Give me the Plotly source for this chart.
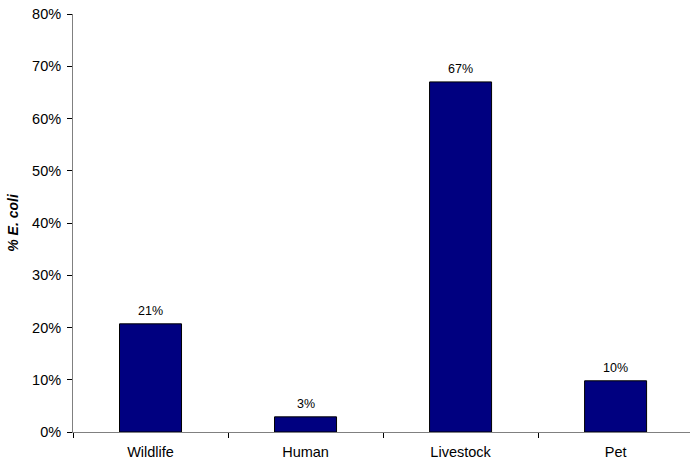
import plotly.graph_objects as go

categories = ["Wildlife", "Human", "Livestock", "Pet"]
values = [0.207, 0.029, 0.670, 0.098]
labels = ["21%", "3%", "67%", "10%"]
y_ticks = [0, 0.1, 0.2, 0.3, 0.4, 0.5, 0.6, 0.7, 0.8]

fig = go.Figure()
fig.add_trace(go.Bar(
    x=categories, y=values,
    marker=dict(color="#000080", line=dict(color="#000000", width=1)),
    width=0.4, hoverinfo="skip",
))

for c, v, t in zip(categories, values, labels):
    fig.add_annotation(
        x=c, y=v, text=t, showarrow=False,
        yanchor="bottom", yshift=4,
        font=dict(family="Arial, Liberation Sans", size=12.5, color="#000000"),
    )

fig.update_layout(
    width=690, height=464,
    margin=dict(l=73, r=0, t=14, b=32),
    paper_bgcolor="white", plot_bgcolor="white",
    showlegend=False,
    font=dict(family="Arial, Liberation Sans", size=14, color="#000000"),
    xaxis=dict(
        type="category", range=[-0.5, 3.48],
        showline=True, linecolor="#808080", linewidth=1,
        ticks="outside", tickson="boundaries", ticklen=5, tickcolor="#000000",
        showgrid=False, tickfont=dict(size=14.5), ticklabelstandoff=7,
    ),
    yaxis=dict(
        range=[0, 0.8], tickvals=y_ticks, tickformat=".0%",
        showline=True, linecolor="#808080", linewidth=1,
        ticks="outside", ticklen=5, tickcolor="#000000",
        showgrid=False, zeroline=False, tickfont=dict(size=14.5),
        ticklabelstandoff=3,
        title=dict(text="<b><i>% E. coli</i></b>", font=dict(size=14), standoff=10),
    ),
)

fig.write_html("out.html")
